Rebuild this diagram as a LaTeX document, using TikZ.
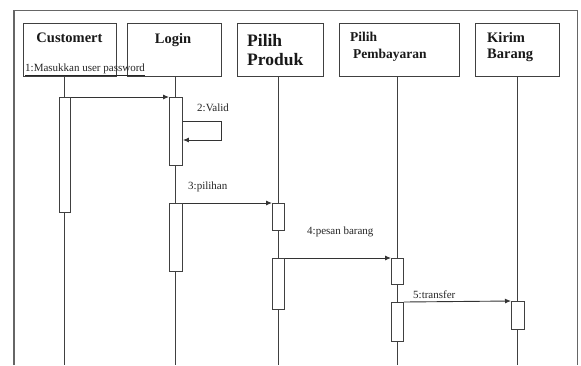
\documentclass[tikz,border=0pt]{standalone}
\usepackage{fontspec}
\setmainfont{Liberation Serif}
\usetikzlibrary{arrows.meta}
\begin{document}
\begin{tikzpicture}[x=1pt,y=-1pt,
  lc/.style={draw=black!75, line width=0.9pt},
  hdr/.style={lc, fill=white, anchor=north west, inner sep=0pt, minimum height=53pt},
  act/.style={lc, fill=white, anchor=north west, inner sep=0pt},
  life/.style={draw=black!75, line width=0.9pt},
  msg/.style={draw=black!80, line width=0.9pt, -{Latex[length=6pt,width=5pt]}},
  lbl/.style={font=\fontsize{11}{13}\selectfont, inner sep=0pt, anchor=base west, text=black!85},
  ttl/.style={font=\bfseries\fontsize{14.5}{16}\selectfont, inner sep=0pt, anchor=base west, text=black!90},
  bigttl/.style={font=\bfseries\fontsize{17.5}{19}\selectfont, inner sep=0pt, anchor=base west, text=black!90}
]
\useasboundingbox (0,0) rectangle (581,365);
\fill[white] (0,0) rectangle (581,365);
% frame
\draw[draw=black!60, line width=1.3pt] (14,365) -- (14,10.5) -- (577.5,10.5) -- (577.5,365);

% lifeline coordinates
\coordinate (cT) at (64.5,76);  \coordinate (cB) at (64.5,365);
\coordinate (lT) at (175.5,76); \coordinate (lB) at (175.5,365);
\coordinate (pT) at (278,76);   \coordinate (pB) at (278,365);
\coordinate (bT) at (397,76);   \coordinate (bB) at (397,365);
\coordinate (kT) at (517.5,76); \coordinate (kB) at (517.5,365);
\draw[life] (cT) -- (cB);
\draw[life] (lT) -- (lB);
\draw[life] (pT) -- (pB);
\draw[life] (bT) -- (bB);
\draw[life] (kT) -- (kB);

% header boxes
\node[hdr, minimum width=93pt] (cust) at (23,23) {};
\node[hdr, minimum width=94pt] (login) at (127,23) {};
\node[hdr, minimum width=86pt] (prod) at (237,23) {};
\node[hdr, minimum width=120pt] (pay) at (339,23) {};
\node[hdr, minimum width=84pt] (kirim) at (475,23) {};

\node[ttl, anchor=base] (tcust) at (69.5,42) {Customert};
\node[ttl, anchor=base] (tlogin) at (173,43) {Login};
\node[bigttl] (tprod1) at (247,46) {Pilih};
\node[bigttl] (tprod2) at (247,65) {Produk};
\node[ttl, font=\bfseries\fontsize{13.5}{15}\selectfont] (tpay1) at (350,41) {Pilih};
\node[ttl, font=\bfseries\fontsize{13.5}{15}\selectfont] (tpay2) at (353,58) {Pembayaran};
\node[ttl] (tk1) at (487,42) {Kirim};
\node[ttl] (tk2) at (487,58) {Barang};

% activation bars
\node[act, minimum width=11pt, minimum height=115pt] (ca) at (59,97) {};
\node[act, minimum width=13pt, minimum height=68pt] (la1) at (169,97) {};
\node[act, minimum width=13pt, minimum height=68pt] (la2) at (169,203) {};
\node[act, minimum width=12pt, minimum height=27pt] (pa1) at (272,203) {};
\node[act, minimum width=12pt, minimum height=51pt] (pa2) at (272,258) {};
\node[act, minimum width=12pt, minimum height=26pt] (ba1) at (391,258) {};
\node[act, minimum width=12pt, minimum height=39pt] (ba2) at (391,302) {};
\node[act, minimum width=13pt, minimum height=28pt] (ka) at (511,301) {};

% messages
\draw[msg] (ca.north east) -- (la1.north west);
\coordinate (s1) at (221,121);
\coordinate (s2) at (221,140);
\draw[msg] (la1.east |- s1) -- (s1) -- (s2) -- (la1.east |- s2);
\draw[msg] (la2.north east) -- (pa1.north west);
\draw[msg] (pa2.north east) -- (ba1.north west);
\draw[msg] (ba2.north east) -- (ka.north west);

% labels
\node[lbl] (m1) at (25,71) {\underline{1:Masukkan user password}};
\node[lbl] (m2) at (197,111) {2:Valid};
\node[lbl] (m3) at (188,189) {3:pilihan};
\node[lbl] (m4) at (307,234) {4:pesan barang};
\node[lbl] (m5) at (413,298) {5:transfer};
\end{tikzpicture}
\end{document}
